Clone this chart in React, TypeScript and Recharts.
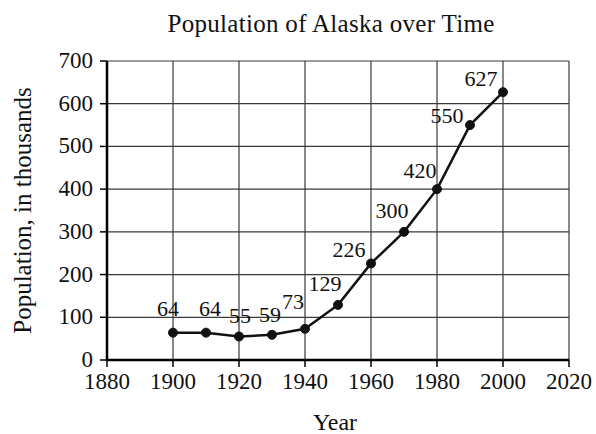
import { LineChart, Line, XAxis, YAxis, CartesianGrid, LabelList } from "recharts";

const years = [1900, 1910, 1920, 1930, 1940, 1950, 1960, 1970, 1980, 1990, 2000];
const population = [64, 64, 55, 59, 73, 129, 226, 300, 400, 550, 627];
const printedLabels = ["64", "64", "55", "59", "73", "129", "226", "300", "420", "550", "627"];

const xTicks = [1880, 1900, 1920, 1940, 1960, 1980, 2000, 2020];
const yTicks = [0, 100, 200, 300, 400, 500, 600, 700];

// where each printed number sits relative to its point
const labelShift = [
  [-5, -17], [4, -17], [1, -14], [-2, -13], [-12, -20],
  [-13, -14], [-22, -6], [-12, -14], [-17, -11], [-23, -2], [-22, -6],
];

const data = years.map((year, i) => ({ year, value: population[i], label: printedLabels[i] }));

const serif = "Liberation Serif, DejaVu Serif, serif";
const textStyle = { fontFamily: serif, fontSize: 22, fill: "#111" };

function PointLabel(props: any) {
  const { x, y, index, value } = props;
  const [dx, dy] = labelShift[index] || [0, -15];
  return (
    <text x={x + dx} y={y + dy} textAnchor="middle" style={textStyle}>
      {value}
    </text>
  );
}

function XTick(props: any) {
  const { x, y, payload } = props;
  return (
    <text x={x} y={y + 16} textAnchor="middle" style={{ ...textStyle, fontSize: 23 }}>
      {payload.value}
    </text>
  );
}

function YTick(props: any) {
  const { x, y, payload } = props;
  return (
    <text x={x} y={y + 7} textAnchor="end" style={{ ...textStyle, fontSize: 23 }}>
      {payload.value}
    </text>
  );
}

function YTitle(props: any) {
  const { x, y, height } = props.viewBox;
  const cx = x - 25;
  const cy = y + height / 2;
  return (
    <text
      x={cx}
      y={cy}
      transform={`rotate(-90, ${cx}, ${cy})`}
      textAnchor="middle"
      dominantBaseline="central"
      style={{ ...textStyle, fontSize: 25 }}
    >
      Population, in thousands
    </text>
  );
}

function XTitle(props: any) {
  const { x, y, width } = props.viewBox;
  return (
    <text x={x + width / 2 - 3} y={y + 70} textAnchor="middle" style={{ ...textStyle, fontSize: 24 }}>
      Year
    </text>
  );
}

export default function App() {
  return (
    <div
      style={{
        position: "absolute",
        left: 0,
        top: 0,
        width: 596,
        height: 434,
        background: "#fff",
        fontFamily: serif,
      }}
    >
      <div
        style={{
          position: "absolute",
          top: 11,
          left: 0,
          width: 662,
          textAlign: "center",
          fontFamily: serif,
          fontSize: 25,
          lineHeight: "25px",
          letterSpacing: 0.3,
          color: "#111",
        }}
      >
        Population of Alaska over Time
      </div>
      <LineChart width={596} height={434} data={data} margin={{ top: 61, right: 27, bottom: 34, left: 47 }}>
        <CartesianGrid stroke="#3a3a3a" strokeWidth={1.2} />
        <XAxis
          dataKey="year"
          type="number"
          domain={[1880, 2020]}
          ticks={xTicks}
          height={40}
          axisLine={{ stroke: "#000", strokeWidth: 2.5 }}
          tickLine={{ stroke: "#000", strokeWidth: 1.5 }}
          tickSize={7}
          tick={<XTick />}
          tickMargin={6}
          label={<XTitle />}
        />
        <YAxis
          type="number"
          domain={[0, 700]}
          ticks={yTicks}
          width={60}
          axisLine={{ stroke: "#000", strokeWidth: 2.5 }}
          tickLine={{ stroke: "#000", strokeWidth: 1.5 }}
          tickSize={7}
          tick={<YTick />}
          tickMargin={7}
          label={<YTitle />}
        />
        <Line
          dataKey="value"
          stroke="#111"
          strokeWidth={2.5}
          dot={{ r: 4.5, fill: "#111", stroke: "#111", strokeWidth: 1 }}
          isAnimationActive={false}
        >
          <LabelList dataKey="label" content={PointLabel} />
        </Line>
      </LineChart>
    </div>
  );
}
